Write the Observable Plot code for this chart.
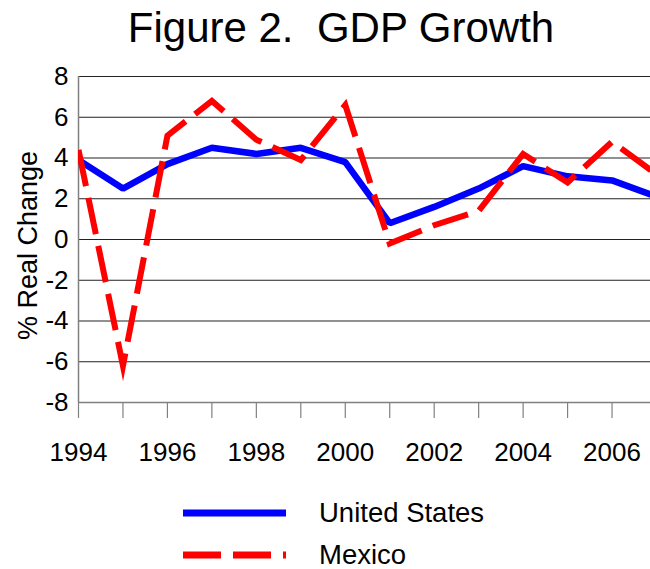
<!DOCTYPE html>
<html>
<head>
<meta charset="utf-8">
<script src="https://cdn.jsdelivr.net/npm/d3@7"></script>
<script src="https://cdn.jsdelivr.net/npm/@observablehq/plot@0.6"></script>
<style>
  html, body { margin: 0; padding: 0; background: #fff; overflow: hidden; }
  body { position: relative; width: 650px; height: 569px; font-family: "Liberation Sans", Arial, sans-serif; color: #000; }
  #title { position: absolute; left: 0; top: 0; width: 682px; height: 60px; text-align: center; font-size: 42px; line-height: 56px; white-space: pre; }
  #chart { position: absolute; left: 0; top: 60px; }
  .leg { position: absolute; left: 0; height: 30px; width: 650px; }
  .leg svg { position: absolute; left: 180px; top: 0; }
  .leg span { position: absolute; left: 319px; top: 0; font-size: 27.5px; line-height: 30px; }
</style>
</head>
<body>
<div id="title">Figure 2.  GDP Growth</div>
<div id="chart"></div>
<div id="legend"></div>
<script>
const years = [1994, 1995, 1996, 1997, 1998, 1999, 2000, 2001, 2002, 2003, 2004, 2005, 2006, 2007];
const unitedStates = [3.9, 2.5, 3.7, 4.5, 4.2, 4.5, 3.8, 0.8, 1.6, 2.5, 3.6, 3.1, 2.9, 2.1];
const mexico = [4.4, -6.2, 5.1, 6.8, 4.9, 3.9, 6.6, -0.2, 0.7, 1.4, 4.2, 2.8, 4.8, 3.2];
const yTicks = [-8, -6, -4, -2, 0, 2, 4, 6, 8];
const xLabelYears = [1994, 1996, 1998, 2000, 2002, 2004, 2006];
const seriesNames = ["United States", "Mexico"];
const seriesColors = ["#0000ff", "#ff0000"];

const usData = years.map((y, i) => ({year: y, value: unitedStates[i]}));
const mxData = years.map((y, i) => ({year: y, value: mexico[i]}));

const chart = Plot.plot({
  width: 650,
  height: 420,
  marginTop: 16,
  marginBottom: 78,
  marginLeft: 78,
  marginRight: 0,
  style: {fontFamily: "'Liberation Sans', Arial, sans-serif", background: "#fff", color: "#000"},
  x: {domain: [1994, 2007], range: [78, 656]},
  y: {domain: [-8, 8]},
  marks: [
    Plot.ruleY(yTicks.filter(d => d > -8), {y: d => d, stroke: "#222", strokeWidth: 1}),
    Plot.ruleY([-8], {stroke: "#808080", strokeWidth: 1.5}),
    Plot.axisX({ticks: years, tickSize: 16, tickFormat: () => "", stroke: "#808080", strokeWidth: 1.2, label: null}),
    Plot.axisX({ticks: xLabelYears, tickSize: 0, tickPadding: 40, tickFormat: d => String(d), fontSize: 26, label: null}),
    Plot.ruleX([1994], {stroke: "#808080", strokeWidth: 1.5}),
    Plot.axisY({ticks: yTicks, tickSize: 0, tickPadding: 10, tickFormat: d => String(d), fontSize: 26, label: null}),
    Plot.text(["% Real Change"], {frameAnchor: "left", textAnchor: "middle", dx: -50, dy: 6, rotate: -90, fontSize: 27, fill: "#000"}),
    Plot.line(usData, {x: "year", y: "value", stroke: seriesColors[0], strokeWidth: 6.5, strokeLinejoin: "miter", strokeLinecap: "butt", clip: true}),
    Plot.line(mxData, {x: "year", y: "value", stroke: seriesColors[1], strokeWidth: 6, strokeDasharray: "37,12", strokeLinejoin: "miter", strokeMiterlimit: 10, strokeLinecap: "butt", clip: true})
  ]
});
document.getElementById("chart").appendChild(chart);

const legend = document.getElementById("legend");
const legendTops = [498, 540];
seriesNames.forEach((name, i) => {
  const row = document.createElement("div");
  row.className = "leg";
  row.style.top = legendTops[i] + "px";
  const dash = i === 1 ? ' stroke-dasharray="38,12"' : '';
  row.innerHTML = `<svg width="110" height="30"><line x1="3" x2="106" y1="15" y2="15" stroke="${seriesColors[i]}" stroke-width="7"${dash}/></svg><span>${name}</span>`;
  legend.appendChild(row);
});
</script>
</body>
</html>
